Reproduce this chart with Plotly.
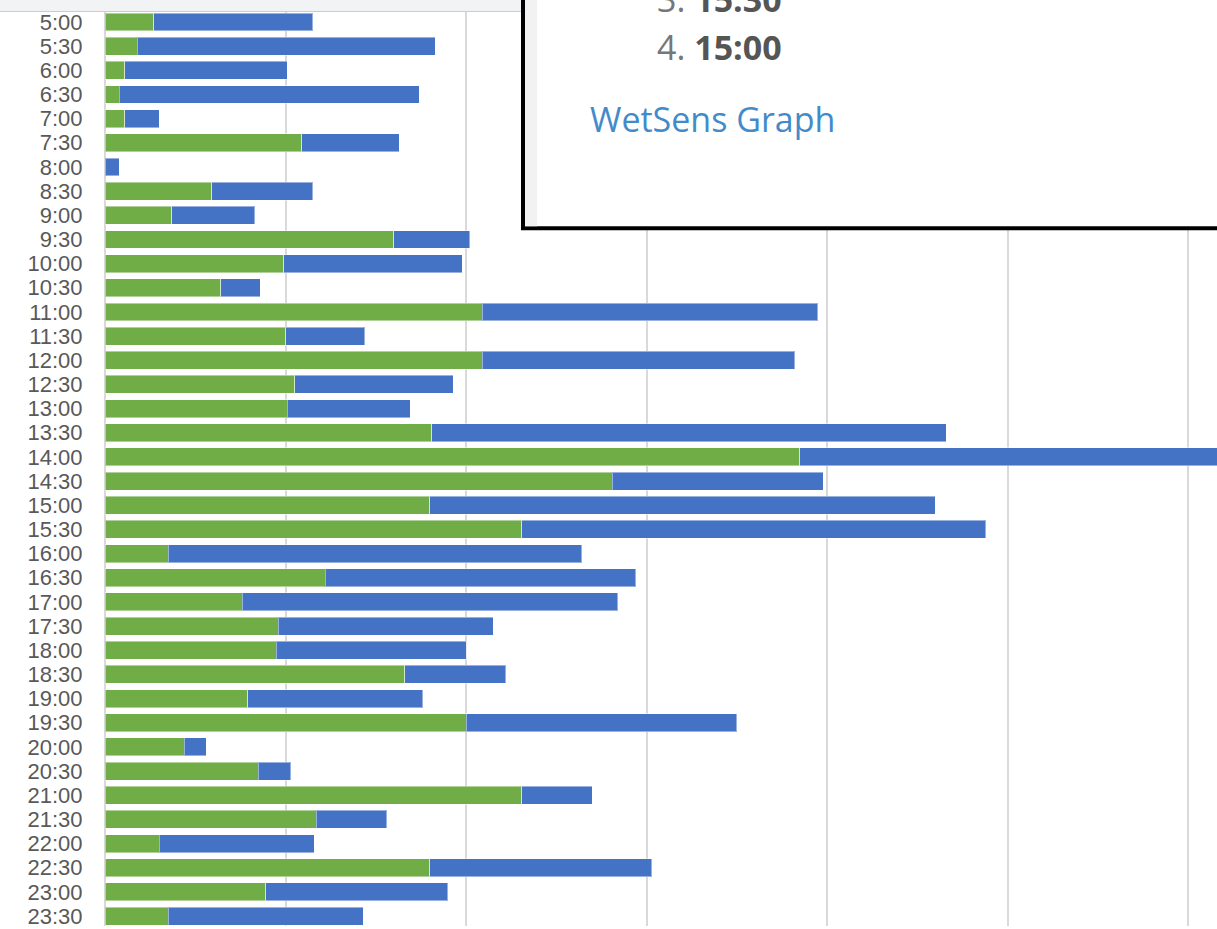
import plotly.graph_objects as go

times = ["5:00", "5:30", "6:00", "6:30", "7:00", "7:30", "8:00", "8:30", "9:00", "9:30",
         "10:00", "10:30", "11:00", "11:30", "12:00", "12:30", "13:00", "13:30", "14:00", "14:30",
         "15:00", "15:30", "16:00", "16:30", "17:00", "17:30", "18:00", "18:30", "19:00", "19:30",
         "20:00", "20:30", "21:00", "21:30", "22:00", "22:30", "23:00", "23:30"]

green_vals = [2.7, 1.8, 1.1, 0.8, 1.1, 10.9, 0.0, 5.9, 3.7, 16.0,
              9.9, 6.4, 20.9, 10.0, 20.9, 10.5, 10.1, 18.1, 38.5, 28.1,
              18.0, 23.1, 3.5, 12.2, 7.6, 9.6, 9.5, 16.6, 7.9, 20.0,
              4.4, 8.5, 23.1, 11.7, 3.0, 18.0, 8.9, 3.5]

blue_vals = [8.8, 16.5, 9.0, 16.6, 1.9, 5.4, 0.8, 5.6, 4.6, 4.2,
             9.9, 2.2, 18.6, 4.4, 17.3, 8.8, 6.8, 28.5, 25.5, 11.7,
             28.0, 25.7, 22.9, 17.2, 20.8, 11.9, 10.5, 5.6, 9.7, 15.0,
             1.2, 1.8, 3.9, 3.9, 8.6, 12.3, 10.1, 10.8]

popup_lines = [("3.", "15:30"), ("4.", "15:00")]
popup_link = "WetSens Graph"

W, H = 1217, 929
L = 105
PW = W - L


def px(x):
    return (x - L) / PW


def py(y):
    return 1 - y / H


fig = go.Figure()
fig.add_trace(go.Bar(y=times, x=green_vals, orientation="h", name="green",
                     marker=dict(color="#70AD47", line=dict(color="rgba(255,255,255,0.45)", width=1))))
fig.add_trace(go.Bar(y=times, x=blue_vals, orientation="h", name="blue",
                     marker=dict(color="#4472C4", line=dict(color="rgba(255,255,255,0.45)", width=1))))

shapes = [
    # top browser band
    dict(type="rect", xref="paper", yref="paper", x0=px(-5), x1=px(522), y0=py(11), y1=py(-5),
         fillcolor="#f2f3f5", line=dict(width=0), layer="above"),
    dict(type="line", xref="paper", yref="paper", x0=px(-5), x1=px(522), y0=py(11.5), y1=py(11.5),
         line=dict(color="#c9cbcd", width=1), layer="above"),
    # popup box
    dict(type="rect", xref="paper", yref="paper", x0=px(523), x1=px(1240), y0=py(229), y1=py(-20),
         fillcolor="white", line=dict(color="black", width=4), layer="above"),
    dict(type="rect", xref="paper", yref="paper", x0=px(525), x1=px(537), y0=py(227), y1=py(-5),
         fillcolor="#f2f2f2", line=dict(width=0), layer="above"),
]

annotations = []
for i, (num, t) in enumerate(popup_lines):
    base = 12 + 48 * i
    annotations.append(dict(
        xref="paper", yref="paper", x=px(655), y=py(base - 13.2), xanchor="left", yanchor="middle",
        text=f"<span style='color:#777777'>{num}</span> <b>{t}</b>", showarrow=False,
        font=dict(family="Open Sans", size=34, color="#555555")))
annotations.append(dict(
    xref="paper", yref="paper", x=px(588), y=py(133 - 13.2), xanchor="left", yanchor="middle",
    text=popup_link, showarrow=False, font=dict(family="Open Sans", size=34, color="#428bca")))

fig.update_layout(
    barmode="stack",
    bargap=0.26,
    width=W, height=H, autosize=False,
    margin=dict(l=L, r=0, t=0, b=0, pad=0),
    paper_bgcolor="white", plot_bgcolor="white",
    showlegend=False,
    shapes=shapes,
    annotations=annotations,
    xaxis=dict(range=[0, PW / 18.05], dtick=10, tick0=0, showticklabels=False,
               showgrid=True, gridcolor="#d9d9d9", gridwidth=1.5,
               zeroline=True, zerolinecolor="#d9d9d9", zerolinewidth=1.5, showline=False),
    yaxis=dict(type="category", categoryorder="array", categoryarray=times,
               tickmode="array", tickvals=times, ticktext=times,
               range=[37.41, -0.908], showgrid=False, zeroline=False, showline=False,
               ticks="outside", ticklen=17, tickcolor="rgba(0,0,0,0)",
               tickfont=dict(family="Liberation Sans", size=22, color="#595959")),
)

fig.write_html("out.html", config={"displayModeBar": False},
               post_script="document.body.style.margin='0';document.body.style.overflow='hidden';")
